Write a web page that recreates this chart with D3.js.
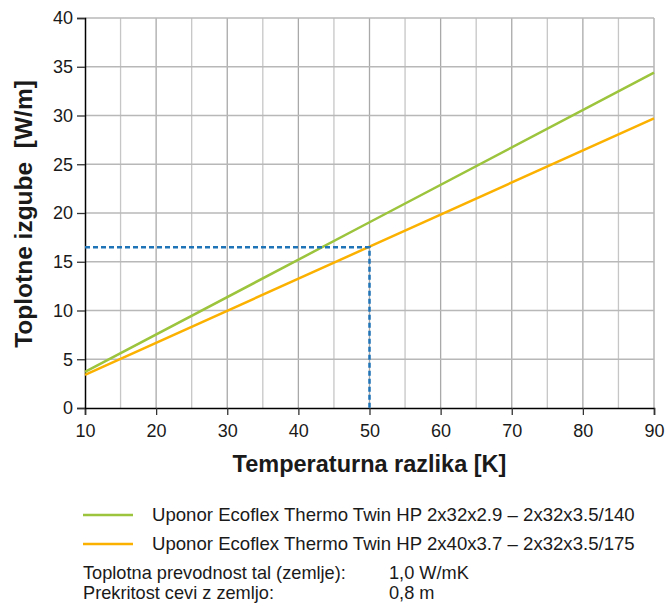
<!DOCTYPE html>
<html>
<head>
<meta charset="utf-8">
<script src="https://cdn.jsdelivr.net/npm/d3@7"></script>
<style>
  body { margin: 0; background: #fff; }
  text { font-family: "Liberation Sans", Arial, sans-serif; fill: #1a1a1a; }
</style>
</head>
<body>
<div id="chart"></div>
<script>
// data
var tempDiff = [10, 50, 90];
var lossTwin32 = [3.7, 19.05, 34.4];
var lossTwin40 = [3.4, 16.55, 29.7];
var seriesNames = [
    'Uponor Ecoflex Thermo Twin HP 2x32x2.9 \u2013 2x32x3.5/140',
    'Uponor Ecoflex Thermo Twin HP 2x40x3.7 \u2013 2x32x3.5/175'
];
var seriesColors = ['#9cc43c', '#fbb100'];
var markerX = 50, markerY = 16.5;
var xTicks = [10, 20, 30, 40, 50, 60, 70, 80, 90];
var yTicks = [0, 5, 10, 15, 20, 25, 30, 35, 40];
var noteLabels = ['Toplotna prevodnost tal (zemlje):', 'Prekritost cevi z zemljo:'];
var noteValues = ['1,0 W/mK', '0,8 m'];

var width = 667,
    height = 603,
    margin = { top: 18, right: 13, bottom: 195, left: 85 };

var svg = d3.select('#chart').append('svg')
    .attr('width', width)
    .attr('height', height);

var x = d3.scaleLinear().domain([10, 90]).range([margin.left, width - margin.right]);
var y = d3.scaleLinear().domain([0, 40]).range([height - margin.bottom, margin.top]);

// grid
var gridX = d3.range(15, 91, 5);
svg.append('g').selectAll('line')
    .data(gridX)
    .enter().append('line')
    .attr('x1', function(d) { return x(d); })
    .attr('x2', function(d) { return x(d); })
    .attr('y1', y(0))
    .attr('y2', y(40))
    .attr('stroke', function(d) { return d % 10 === 0 ? '#a9a9a9' : '#c6c6c6'; })
    .attr('stroke-width', 1.3);

svg.append('g').selectAll('line')
    .data(yTicks.slice(1))
    .enter().append('line')
    .attr('x1', x(10))
    .attr('x2', x(90))
    .attr('y1', function(d) { return y(d); })
    .attr('y2', function(d) { return y(d); })
    .attr('stroke', '#b8b8b8')
    .attr('stroke-width', 1.3);

// axes
var xAxis = svg.append('g')
    .attr('transform', 'translate(0,' + y(0) + ')')
    .call(d3.axisBottom(x).tickValues(xTicks).tickSize(7).tickPadding(9));
var yAxis = svg.append('g')
    .attr('transform', 'translate(' + x(10) + ',0)')
    .call(d3.axisLeft(y).tickValues(yTicks).tickSize(8).tickPadding(4));

[xAxis, yAxis].forEach(function(g) {
    g.select('.domain').attr('stroke', '#000').attr('stroke-width', 1.5);
    g.selectAll('.tick line').attr('stroke', '#333').attr('stroke-width', 1.3);
    g.selectAll('.tick text')
        .style('font-family', '"Liberation Sans", Arial, sans-serif')
        .style('font-size', '18px')
        .attr('fill', '#1a1a1a');
});

// series
var line = d3.line()
    .x(function(d, i) { return x(tempDiff[i]); })
    .y(function(d) { return y(d); });

[lossTwin32, lossTwin40].forEach(function(s, i) {
    svg.append('path')
        .datum(s)
        .attr('d', line)
        .attr('fill', 'none')
        .attr('stroke', seriesColors[i])
        .attr('stroke-width', 2.5);
});

// dashed reading marker
svg.append('path')
    .attr('d', 'M' + x(10) + ',' + y(markerY) + 'H' + x(markerX) + 'V' + y(0))
    .attr('fill', 'none')
    .attr('stroke', '#1f74b8')
    .attr('stroke-width', 2.5)
    .attr('stroke-dasharray', '5,3');

// axis titles
svg.append('text')
    .attr('x', (x(10) + x(90)) / 2)
    .attr('y', 472)
    .attr('text-anchor', 'middle')
    .style('font-size', '23.5px')
    .style('font-weight', 'bold')
    .text('Temperaturna razlika [K]');

svg.append('text')
    .attr('transform', 'translate(32,' + 214 + ') rotate(-90)')
    .attr('text-anchor', 'middle')
    .style('font-size', '24.5px')
    .style('font-weight', 'bold')
    .style('white-space', 'pre')
    .text('Toplotne izgube  [W/m]');

// legend
var legend = svg.append('g');
seriesNames.forEach(function(name, i) {
    var ly = 515 + i * 29;
    legend.append('line')
        .attr('x1', 83).attr('x2', 133)
        .attr('y1', ly).attr('y2', ly)
        .attr('stroke', seriesColors[i])
        .attr('stroke-width', 2.5);
    legend.append('text')
        .attr('x', 152)
        .attr('y', ly + 6)
        .style('font-size', '18.6px')
        .text(name);
});

noteLabels.forEach(function(label, i) {
    var ty = 579 + i * 20;
    svg.append('text').attr('x', 83).attr('y', ty).style('font-size', '18.2px').text(label);
    svg.append('text').attr('x', 389).attr('y', ty).style('font-size', '18.2px').text(noteValues[i]);
});
</script>
</body>
</html>
